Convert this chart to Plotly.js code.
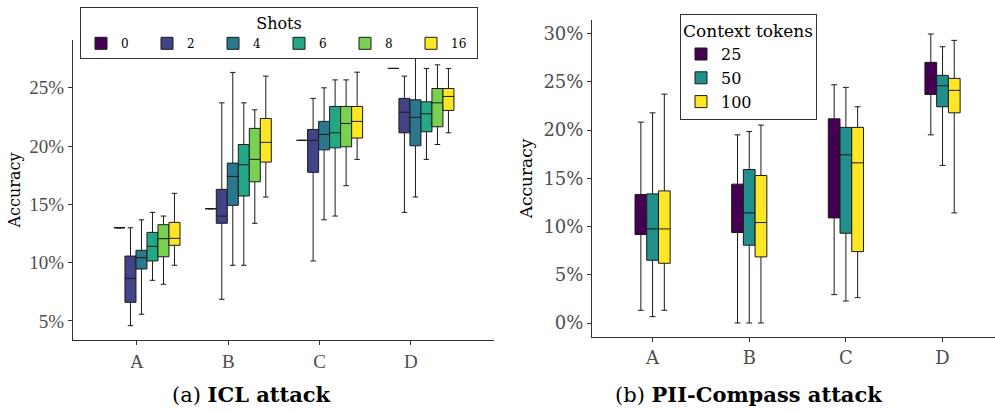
<!DOCTYPE html>
<html>
<head>
<meta charset="utf-8">
<script src="https://cdn.plot.ly/plotly-3.0.1.min.js"></script>
<style>
  html, body { margin: 0; padding: 0; background: #ffffff; }
  #wrap { position: relative; width: 995px; height: 412px; }
  #left { position: absolute; left: 0; top: 0; width: 497px; height: 412px; }
  #right { position: absolute; left: 497px; top: 0; width: 498px; height: 412px; }
</style>
</head>
<body>
<div id="wrap"><div id="left"></div><div id="right"></div></div>
<script>
// ---------- data ----------
const categories = ['A', 'B', 'C', 'D'];

// (a) ICL attack: accuracy (%) by number of shots
const shots = ['0', '2', '4', '6', '8', '16'];
const shotColors = ['#440154', '#414487', '#2A788E', '#22A884', '#7AD151', '#FDE725'];
const iclLower = [
  [13.0, 14.63, 20.49, 26.66],
  [4.6, 6.86, 10.15, 14.32],
  [5.58, 9.78, 13.68, 15.63],
  [8.49, 9.78, 14.0, 18.86],
  [8.15, 13.38, 16.6, 20.14],
  [9.78, 15.63, 18.86, 21.14]
];
const iclQ1 = [
  [13.0, 14.63, 20.49, 26.66],
  [6.6, 13.38, 17.75, 21.14],
  [9.46, 14.92, 19.68, 20.03],
  [10.15, 15.72, 19.85, 21.23],
  [10.51, 16.94, 19.94, 21.66],
  [11.49, 18.63, 20.69, 23.06]
];
const iclMedian = [
  [13.0, 14.63, 20.49, 26.66],
  [8.66, 14.0, 20.49, 22.91],
  [10.43, 17.4, 21.0, 22.46],
  [11.4, 18.4, 21.14, 22.77],
  [12.06, 18.86, 21.94, 23.71],
  [12.09, 20.32, 22.12, 24.26]
];
const iclQ3 = [
  [13.0, 14.63, 20.49, 26.66],
  [10.57, 16.29, 21.43, 24.09],
  [11.06, 18.54, 22.12, 23.97],
  [12.6, 20.14, 23.4, 23.8],
  [13.26, 21.52, 23.4, 24.94],
  [13.46, 22.37, 23.4, 24.94]
];
const iclUpper = [
  [13.0, 14.63, 20.49, 26.66],
  [13.0, 23.71, 24.09, 26.0],
  [13.68, 26.32, 25.0, 27.94],
  [14.32, 23.71, 25.68, 26.66],
  [14.0, 23.11, 25.68, 26.97],
  [15.95, 26.0, 26.34, 26.66]
];
const iclTicks = [5, 10, 15, 20, 25];

// (b) PII-Compass attack: accuracy (%) by context tokens
const tokens = ['25', '50', '100'];
const tokenColors = ['#440154', '#21908C', '#FDE725'];
const piiLower = [
  [1.32, 0, 2.94, 19.5],
  [0.66, 0, 2.28, 16.33],
  [1.32, 0, 2.63, 11.41]
];
const piiQ1 = [
  [9.17, 9.38, 10.89, 23.69],
  [6.5, 8.06, 9.3, 22.41],
  [6.19, 6.85, 7.4, 21.78]
];
const piiMedian = [
  [10.89, 12.21, 18.88, 25.25],
  [9.75, 11.41, 17.43, 24.59],
  [9.75, 10.41, 16.6, 24.11]
];
const piiQ3 = [
  [13.32, 14.39, 21.16, 27.01],
  [13.38, 15.91, 20.27, 25.66],
  [13.69, 15.29, 20.27, 25.35]
];
const piiUpper = [
  [20.82, 19.5, 24.69, 29.95],
  [21.78, 19.85, 24.42, 28.63],
  [23.72, 20.51, 22.41, 29.29]
];
const piiTicks = [0, 5, 10, 15, 20, 25, 30];

// ---------- styling ----------
const SERIF_L = 'Liberation Serif';
const SERIF_R = 'DejaVu Serif';
const AXIS_COL = '#333333';
const TICK_COL = '#4D4D4D';
const catIndex = categories.map((c, i) => i);
const pct = v => v + '%';

function boxTraces(names, colors, lo, q1, med, q3, hi) {
  return names.map((n, k) => ({
    type: 'box',
    name: n,
    x: catIndex,
    lowerfence: lo[k],
    q1: q1[k],
    median: med[k],
    q3: q3[k],
    upperfence: hi[k],
    fillcolor: colors[k],
    line: { color: '#1a1a1a', width: 1 },
    whiskerwidth: 0.5,
    boxpoints: false,
    hoverinfo: 'skip'
  }));
}

// ---------- left: ICL attack ----------
const leftTraces = boxTraces(shots, shotColors, iclLower, iclQ1, iclMedian, iclQ3, iclUpper);
const tickShift = 0.11;
const leftLayout = {
  width: 497, height: 412,
  margin: { l: 0, r: 0, t: 0, b: 0 },
  paper_bgcolor: '#ffffff', plot_bgcolor: '#ffffff',
  boxmode: 'group', boxgap: 0.277, boxgroupgap: 0,
  showlegend: true,
  xaxis: {
    domain: [73 / 497, 494 / 497],
    type: 'linear', range: [-0.81, 3.80],
    tickmode: 'array', tickvals: catIndex.map(i => i - tickShift), ticktext: categories,
    showgrid: false, zeroline: false,
    showline: true, linecolor: AXIS_COL, linewidth: 1,
    ticks: 'outside', ticklen: 4, tickcolor: AXIS_COL,
    tickfont: { family: SERIF_L, size: 19, color: TICK_COL }
  },
  yaxis: {
    domain: [1 - 340 / 412, 1 - 40 / 412],
    range: [3.37, 29.1],
    tickmode: 'array', tickvals: iclTicks, ticktext: iclTicks.map(pct),
    showgrid: false, zeroline: false,
    showline: true, linecolor: AXIS_COL, linewidth: 1,
    ticks: 'outside', ticklen: 4, tickcolor: AXIS_COL,
    tickfont: { family: SERIF_L, size: 19, color: TICK_COL },
    title: { text: 'Accuracy', font: { family: SERIF_R, size: 16, color: '#000' }, standoff: 4 }
  },
  legend: {
    orientation: 'h', x: 80 / 497, xanchor: 'left', y: 1 - 7 / 412, yanchor: 'top',
    bgcolor: '#ffffff', bordercolor: '#333333', borderwidth: 1,
    entrywidth: 21, entrywidthmode: 'pixels', itemwidth: 30,
    font: { family: SERIF_R, size: 12, color: '#000' },
    title: { text: 'Shots', side: 'top center', font: { family: SERIF_R, size: 16, color: '#000' } },
    tracegroupgap: 0
  },
  annotations: [{
    xref: 'paper', yref: 'paper', x: 251 / 497, y: 1 - 394 / 412,
    xanchor: 'center', yanchor: 'middle', showarrow: false,
    text: '(a) <b>ICL attack</b>',
    font: { family: SERIF_R, size: 21, color: '#000' }
  }]
};

// ---------- right: PII-Compass attack ----------
const rightTraces = boxTraces(tokens, tokenColors, piiLower, piiQ1, piiMedian, piiQ3, piiUpper);
const rightLayout = {
  width: 498, height: 412,
  margin: { l: 0, r: 0, t: 0, b: 0 },
  paper_bgcolor: '#ffffff', plot_bgcolor: '#ffffff',
  boxmode: 'group', boxgap: 0.636, boxgroupgap: 0,
  showlegend: true,
  xaxis: {
    domain: [95 / 498, 1],
    type: 'linear', range: [-0.627, 3.543],
    tickmode: 'array', tickvals: catIndex, ticktext: categories,
    showgrid: false, zeroline: false,
    showline: true, linecolor: AXIS_COL, linewidth: 1,
    ticks: 'outside', ticklen: 4, tickcolor: AXIS_COL,
    tickfont: { family: SERIF_R, size: 18, color: TICK_COL }
  },
  yaxis: {
    domain: [1 - 337 / 412, 1 - 20 / 412],
    range: [-1.45, 31.4],
    tickmode: 'array', tickvals: piiTicks, ticktext: piiTicks.map(pct),
    showgrid: false, zeroline: false,
    showline: true, linecolor: AXIS_COL, linewidth: 1,
    ticks: 'outside', ticklen: 4, tickcolor: AXIS_COL,
    tickfont: { family: SERIF_R, size: 18, color: TICK_COL },
    title: { text: 'Accuracy', font: { family: SERIF_R, size: 17, color: '#000' }, standoff: 6 }
  },
  legend: {
    orientation: 'v', x: 183 / 498, xanchor: 'left', y: 1 - 14 / 412, yanchor: 'top',
    bgcolor: '#ffffff', bordercolor: '#333333', borderwidth: 1,
    itemwidth: 30,
    font: { family: SERIF_R, size: 16, color: '#000' },
    title: { text: 'Context tokens', side: 'top', font: { family: SERIF_R, size: 17, color: '#000' } },
    tracegroupgap: 0
  },
  annotations: [{
    xref: 'paper', yref: 'paper', x: 251 / 498, y: 1 - 394 / 412,
    xanchor: 'center', yanchor: 'middle', showarrow: false,
    text: '(b) <b>PII-Compass attack</b>',
    font: { family: SERIF_R, size: 21, color: '#000' }
  }]
};

const cfg = { displayModeBar: false, staticPlot: true };
Plotly.newPlot('left', leftTraces, leftLayout, cfg);
Plotly.newPlot('right', rightTraces, rightLayout, cfg);
</script>
</body>
</html>
